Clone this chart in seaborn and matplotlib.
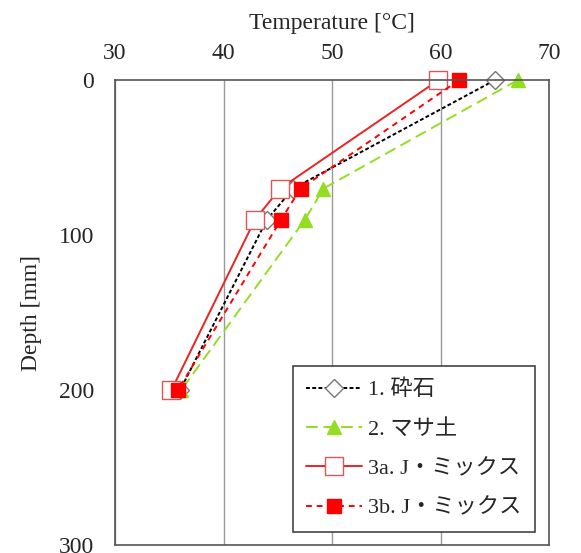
import seaborn as sns
import matplotlib
matplotlib.use("Agg")
import matplotlib.pyplot as plt
import pandas as pd

sns.set_theme(style="white")
plt.rcParams['font.family'] = ['Liberation Serif', 'Noto Sans CJK JP']

depth = [0, 70, 90, 200]
labels = ["1. 砕石", "2. マサ土", "3a. J・ミックス", "3b. J・ミックス"]
temp_saiseki = [65.0, 46.4, 44.0, 36.0]
temp_masado = [67.1, 49.2, 47.5, 36.1]
temp_jmix_a = [59.8, 45.2, 42.9, 35.2]
temp_jmix_b = [61.7, 47.1, 45.3, 35.8]

styles = [
    dict(color="black", dashes=(2, 1.2), marker="D", ms=9, mfc="white", mec="#777777", lw=1.4),
    dict(color="#95DD22", dashes=(6, 3), marker="^", ms=10, mfc="#95DD22", mec="#95DD22", lw=1.4),
    dict(color="#EE2222", dashes=None, marker="s", ms=13, mfc="white", mec="#E05555", lw=1.4),
    dict(color="#FF0000", dashes=(3, 2.5), marker="s", ms=9.5, mfc="#FF0000", mec="#FF0000", lw=1.4),
]

fig = plt.figure(figsize=(5.81, 5.53), dpi=100)
ax = fig.add_axes([0.198, 0.0145, 0.747, 0.8405])

for lab, temps, st in zip(labels, [temp_saiseki, temp_masado, temp_jmix_a, temp_jmix_b], styles):
    d = pd.DataFrame({"Temperature": temps, "Depth": depth})
    sns.lineplot(data=d, x="Temperature", y="Depth", sort=False, estimator=None,
                 ax=ax, label=lab, color=st["color"], lw=st["lw"],
                 marker=st["marker"], markersize=st["ms"],
                 markerfacecolor=st["mfc"], markeredgecolor=st["mec"], markeredgewidth=1.0)
    line = ax.lines[-1]
    line.set_clip_on(False)
    if st["dashes"] is not None:
        line.set_dashes(st["dashes"])

ax.set_xlim(30, 70)
ax.set_ylim(300, 0)
ax.set_xticks([30, 40, 50, 60, 70])
ax.set_yticks([0, 100, 200, 300])
ax.xaxis.tick_top()
ax.xaxis.set_label_position("top")
ax.set_xlabel("Temperature [°C]", fontsize=17, labelpad=10)
ax.set_ylabel("Depth [mm]", fontsize=17, labelpad=12)
ax.tick_params(axis="x", labelsize=17, length=0, pad=12)
ax.tick_params(axis="y", labelsize=17, length=0, pad=15)
ax.grid(axis="x", color="#999999", lw=1)
ax.grid(axis="y", visible=False)
for s in ax.spines.values():
    s.set_color("#555555")
    s.set_linewidth(1.2)

leg = ax.legend(loc="lower right", fontsize=16, frameon=True, fancybox=False,
                edgecolor="#444444", framealpha=1, handlelength=2.5,
                borderpad=0.6, labelspacing=0.85, handletextpad=0.3,
                borderaxespad=0, bbox_to_anchor=(0.968, 0.028))
leg.get_frame().set_linewidth(1.2)

fig.savefig("out.png", dpi=100)
